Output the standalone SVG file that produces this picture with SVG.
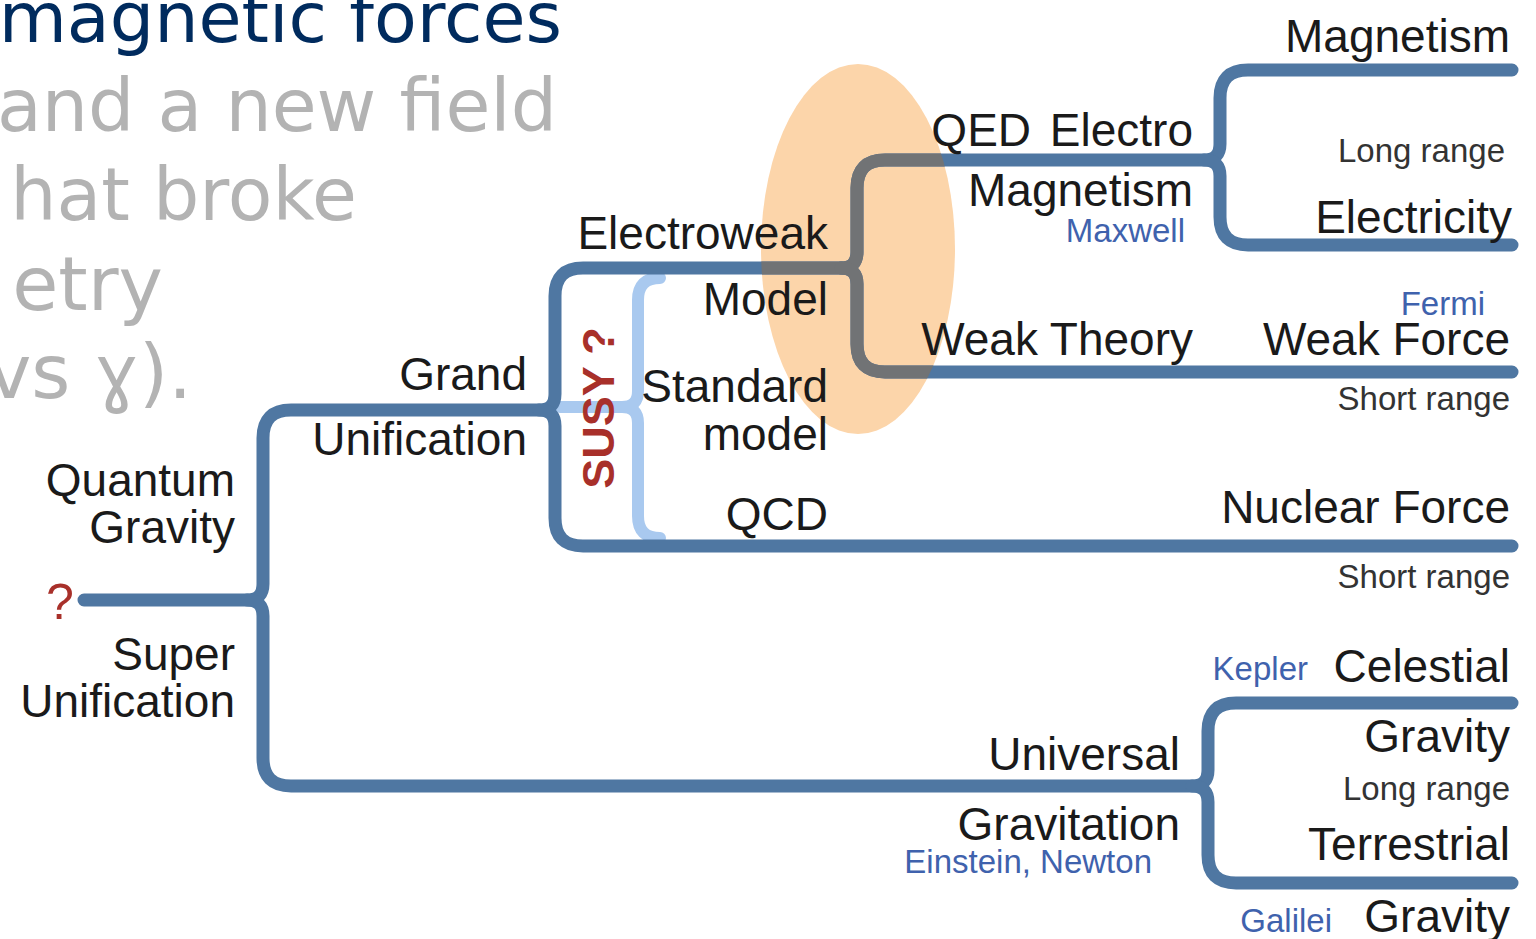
<svg xmlns="http://www.w3.org/2000/svg" width="1536" height="939" viewBox="0 0 1536 939">
<style>
.bg{fill:#ffffff}
.hd{font-family:"DejaVu Sans",Verdana,sans-serif;font-size:73px;fill:#b3b3b3}
.hd1{fill:#002b5e;font-size:70px}
.hd2{font-size:75px}
.t{font-family:"Liberation Sans",Arial,sans-serif;font-size:46px;fill:#1a1a1a;text-anchor:end}
.s{font-family:"Liberation Sans",Arial,sans-serif;font-size:33px;fill:#333333;text-anchor:end}
.b{font-family:"Liberation Sans",Arial,sans-serif;font-size:33px;fill:#3f62ad;text-anchor:end}
.r{font-family:"Liberation Sans",Arial,sans-serif;fill:#a8302a}
.ln{fill:none;stroke:#4f77a2;stroke-width:13;stroke-linecap:round;stroke-linejoin:round}
.gr{stroke:#717375}
.lb{fill:none;stroke:#a9c9ef;stroke-width:12;stroke-linecap:round;stroke-linejoin:round}
</style>
<defs>
<clipPath id="ec"><ellipse cx="858" cy="249" rx="97" ry="185"/></clipPath>
</defs>
<rect class="bg" x="0" y="0" width="1536" height="939"/>

<g id="heading">
<text class="hd hd1" x="562" y="42" text-anchor="end">magnetic forces</text>
<text class="hd" x="557" y="131" text-anchor="end">and a new field</text>
<text class="hd" x="357" y="220" text-anchor="end">hat broke</text>
<text class="hd hd2" x="163" y="310" text-anchor="end">etry</text>
<text class="hd hd2" x="192" y="398" text-anchor="end">vs ɣ).</text>
</g>

<ellipse id="highlight" cx="858" cy="249" rx="97" ry="185" fill="#fcd5aa"/>

<g id="connectors">
<path id="susy-brace" class="lb" d="M 560 407 H 622 Q 638 407 638 391 V 300 Q 638 278 660 278 M 622 407 Q 638 407 638 423 V 516 Q 638 538 660 538"/>
<g id="blue-lines">
<path class="ln" d="M 84 600 H 247 Q 263 600 263 584 V 438 Q 263 410 291 410 H 539 Q 555 410 555 394 V 296 Q 555 268 583 268 H 841 Q 857 268 857 252 V 188 Q 857 160 885 160 H 1204 Q 1220 160 1220 144 V 98 Q 1220 70 1248 70 H 1512"/>
<path class="ln" d="M 247 600 Q 263 600 263 616 V 758 Q 263 786 291 786 H 1192 Q 1208 786 1208 770 V 731 Q 1208 703 1236 703 H 1512"/>
<path class="ln" d="M 1192 786 Q 1208 786 1208 802 V 855 Q 1208 883 1236 883 H 1512"/>
<path class="ln" d="M 539 410 Q 555 410 555 426 V 518 Q 555 546 583 546 H 1512"/>
<path class="ln" d="M 841 268 Q 857 268 857 284 V 344 Q 857 372 885 372 H 1512"/>
<path class="ln" d="M 1204 160 Q 1220 160 1220 176 V 217 Q 1220 245 1248 245 H 1512"/>
</g>
<g id="grey-lines" clip-path="url(#ec)">
<path class="ln gr" d="M 539 410 Q 555 410 555 394 V 296 Q 555 268 583 268 H 841 Q 857 268 857 252 V 188 Q 857 160 885 160 H 1204"/>
<path class="ln gr" d="M 841 268 Q 857 268 857 284 V 344 Q 857 372 885 372 H 1512"/>
</g>
</g>

<g id="root"><text class="r" x="60" y="619" font-size="50" text-anchor="middle">?</text></g>
<g id="quantum-gravity"><text class="t" x="235" y="496">Quantum</text><text class="t" x="235" y="543">Gravity</text></g>
<g id="super-unification"><text class="t" x="235" y="670">Super</text><text class="t" x="235" y="717">Unification</text></g>
<g id="grand-unification"><text class="t" x="527" y="390">Grand</text><text class="t" x="527" y="455">Unification</text></g>
<g id="susy"><text class="r" transform="translate(614,408) rotate(-90)" font-size="45" font-weight="bold" text-anchor="middle">SUSY ?</text></g>
<g id="electroweak-model"><text class="t" x="828" y="249">Electroweak</text><text class="t" x="828" y="315">Model</text></g>
<g id="standard-model"><text class="t" x="828" y="402">Standard</text><text class="t" x="828" y="450">model</text></g>
<g id="qcd"><text class="t" x="828" y="530">QCD</text></g>
<g id="qed"><text class="t" x="1193" y="146" word-spacing="6">QED Electro</text><text class="t" x="1193" y="206">Magnetism</text><text class="b" x="1185" y="242">Maxwell</text></g>
<g id="weak-theory"><text class="t" x="1193" y="355">Weak Theory</text></g>
<g id="magnetism"><text class="t" x="1510" y="52">Magnetism</text></g>
<g id="long-range-em"><text class="s" x="1505" y="162">Long range</text></g>
<g id="electricity"><text class="t" x="1512" y="233">Electricity</text></g>
<g id="weak-force"><text class="b" x="1485" y="315">Fermi</text><text class="t" x="1510" y="355">Weak Force</text><text class="s" x="1510" y="410">Short range</text></g>
<g id="nuclear-force"><text class="t" x="1510" y="523">Nuclear Force</text><text class="s" x="1510" y="588">Short range</text></g>
<g id="universal-gravitation"><text class="t" x="1180" y="770">Universal</text><text class="t" x="1180" y="840">Gravitation</text><text class="b" x="1152" y="873">Einstein, Newton</text></g>
<g id="celestial-gravity"><text class="b" x="1308" y="680">Kepler</text><text class="t" x="1510" y="682">Celestial</text><text class="t" x="1510" y="752">Gravity</text><text class="s" x="1510" y="800">Long range</text></g>
<g id="terrestrial-gravity"><text class="t" x="1510" y="860">Terrestrial</text><text class="b" x="1332" y="932">Galilei</text><text class="t" x="1510" y="932">Gravity</text></g>
</svg>
